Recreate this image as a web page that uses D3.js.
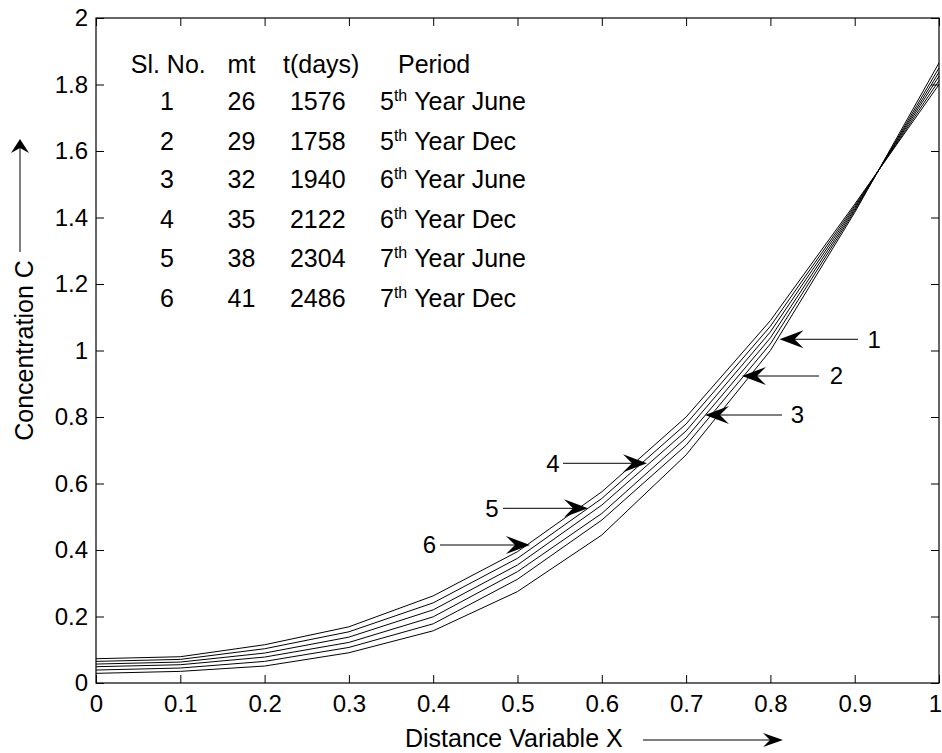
<!DOCTYPE html>
<html><head><meta charset="utf-8">
<script src="https://cdn.jsdelivr.net/npm/d3@7"></script>
<style>
html,body{margin:0;padding:0;background:#fff;}
svg{display:block;font-family:"Liberation Sans",Arial,Helvetica,sans-serif;}
</style></head>
<body>
<div id="chart"></div>
<script>
// ---- data ----
const xValues = [0, 0.1, 0.2, 0.3, 0.4, 0.5, 0.6, 0.7, 0.8, 0.9, 1.0];
const curve1 = [0.029, 0.035, 0.051, 0.091, 0.157, 0.275, 0.445, 0.686, 1.000, 1.415, 1.865];
const curve2 = [0.039, 0.045, 0.065, 0.107, 0.178, 0.312, 0.490, 0.715, 1.020, 1.420, 1.850];
const curve3 = [0.049, 0.055, 0.078, 0.122, 0.199, 0.335, 0.510, 0.737, 1.038, 1.425, 1.837];
const curve4 = [0.057, 0.063, 0.090, 0.138, 0.220, 0.355, 0.535, 0.758, 1.056, 1.430, 1.825];
const curve5 = [0.065, 0.071, 0.103, 0.154, 0.241, 0.375, 0.555, 0.779, 1.073, 1.435, 1.812];
const curve6 = [0.073, 0.079, 0.115, 0.169, 0.262, 0.395, 0.575, 0.800, 1.090, 1.440, 1.800];
const curves = [curve1, curve2, curve3, curve4, curve5, curve6];

const xTicks = [0, 0.1, 0.2, 0.3, 0.4, 0.5, 0.6, 0.7, 0.8, 0.9, 1];
const xTickLabels = ["0","0.1","0.2","0.3","0.4","0.5","0.6","0.7","0.8","0.9","1"];
const yTicks = [0, 0.2, 0.4, 0.6, 0.8, 1, 1.2, 1.4, 1.6, 1.8, 2];
const yTickLabels = ["0","0.2","0.4","0.6","0.8","1","1.2","1.4","1.6","1.8","2"];

const tableSlNo = ["1","2","3","4","5","6"];
const tableMt = ["26","29","32","35","38","41"];
const tableDays = ["1576","1758","1940","2122","2304","2486"];
const tableOrd = ["5","5","6","6","7","7"];
const tablePeriod = ["Year June","Year Dec","Year June","Year Dec","Year June","Year Dec"];
const tableHeaders = ["Sl. No.","mt","t(days)","Period"];

// curve label arrows (data coords): tip, tail, label
const arrowLabels = ["1","2","3","4","5","6"];
const arrowTipX = [0.8108, 0.7663, 0.7224, 0.6536, 0.5836, 0.5148];
const arrowTipY = [1.0337, 0.9233, 0.806, 0.6608, 0.5254, 0.415];
const arrowTailX = [0.904, 0.8577, 0.8138, 0.554, 0.4828, 0.4081];
const arrowLabelX = [0.923, 0.8784, 0.8321, 0.5421, 0.4698, 0.3956];

// ---- layout ----
const W = 942, H = 753;
const M = {left: 96, top: 18, right: 3, bottom: 70};
const x = d3.scaleLinear().domain([0,1]).range([M.left, W - M.right]);
const y = d3.scaleLinear().domain([0,2]).range([H - M.bottom, M.top]);
const FS = 24, FT = 25;

const svg = d3.select("#chart").append("svg").attr("width", W).attr("height", H);
svg.append("rect").attr("width", W).attr("height", H).attr("fill", "#fff");

// axes
const fmtX = d => xTickLabels[xTicks.indexOf(d)];
const fmtY = d => yTickLabels[yTicks.indexOf(d)];
const gx = svg.append("g").attr("transform", `translate(0,${y(0)})`)
  .call(d3.axisBottom(x).tickValues(xTicks).tickFormat(fmtX).tickSizeInner(-8).tickSizeOuter(0).tickPadding(12));
const gy = svg.append("g").attr("transform", `translate(${x(0)},0)`)
  .call(d3.axisLeft(y).tickValues(yTicks).tickFormat(fmtY).tickSizeInner(-8).tickSizeOuter(0).tickPadding(8));
const gt = svg.append("g").attr("transform", `translate(0,${y(2)})`)
  .call(d3.axisTop(x).tickValues(xTicks).tickFormat("").tickSizeInner(-8).tickSizeOuter(0));
const gr = svg.append("g").attr("transform", `translate(${x(1)},0)`)
  .call(d3.axisRight(y).tickValues(yTicks).tickFormat("").tickSizeInner(-8).tickSizeOuter(0));
[gx, gy, gt, gr].forEach(g => {
  g.select(".domain").remove();
  g.selectAll("line").attr("stroke", "#000").attr("stroke-width", 1);
  g.selectAll("text").attr("font-size", FS).attr("fill", "#000")
   .attr("font-family", '"Liberation Sans",Arial,Helvetica,sans-serif');
});
// keep the last x tick label inside the picture
gx.selectAll(".tick").filter(d => d === 1).select("text").attr("dx", -4);
svg.append("rect").attr("x", x(0)).attr("y", y(2)).attr("width", x(1) - x(0)).attr("height", y(0) - y(2))
  .attr("fill", "none").attr("stroke", "#000").attr("stroke-width", 1.2);

// curves
const line = d3.line().x((d, i) => x(xValues[i])).y(d => y(d));
svg.append("g").selectAll("path").data(curves).join("path")
  .attr("d", line).attr("fill", "none").attr("stroke", "#000").attr("stroke-width", 1);

function arrowHead(g, tx, ty, angleDeg, len, half, notch) {
  const p = `M0,0 L${-len},${-half} L${-notch},0 L${-len},${half} Z`;
  g.append("path").attr("d", p).attr("fill", "#000")
    .attr("transform", `translate(${tx},${ty}) rotate(${angleDeg})`);
}

// curve annotations
const ag = svg.append("g");
arrowLabels.forEach((lab, i) => {
  const tx = x(arrowTipX[i]), ty = y(arrowTipY[i]), tl = x(arrowTailX[i]);
  const pointsRight = tl < tx;
  ag.append("line").attr("x1", tl).attr("y1", ty).attr("x2", tx + (pointsRight ? -12 : 12)).attr("y2", ty)
    .attr("stroke", "#000").attr("stroke-width", 1);
  arrowHead(ag, tx, ty, pointsRight ? 0 : 180, 24, 9, 15);
  ag.append("text").attr("x", x(arrowLabelX[i])).attr("y", ty).attr("dy", "0.35em")
    .attr("text-anchor", "middle").attr("font-size", FS).text(lab);
});

// table
const tg = svg.append("g").attr("font-size", FT).attr("fill", "#000");
const headerY = y(1.834);
tg.append("text").attr("x", x(0.0412)).attr("y", headerY).text(tableHeaders[0]);
tg.append("text").attr("x", x(0.1726)).attr("y", headerY).attr("text-anchor", "middle").text(tableHeaders[1]);
tg.append("text").attr("x", x(0.2218)).attr("y", headerY).text(tableHeaders[2]);
tg.append("text").attr("x", x(0.3582)).attr("y", headerY).text(tableHeaders[3]);
const rowY = [1.723, 1.603, 1.488, 1.368, 1.252, 1.132];
tableSlNo.forEach((s, i) => {
  const yy = y(rowY[i]);
  tg.append("text").attr("x", x(0.0842)).attr("y", yy).attr("text-anchor", "middle").text(s);
  tg.append("text").attr("x", x(0.1726)).attr("y", yy).attr("text-anchor", "middle").text(tableMt[i]);
  tg.append("text").attr("x", x(0.2301)).attr("y", yy).text(tableDays[i]);
  const t = tg.append("text").attr("x", x(0.3369)).attr("y", yy);
  t.append("tspan").text(tableOrd[i]);
  t.append("tspan").attr("font-size", 16).attr("dy", -9).text("th");
  t.append("tspan").attr("dy", 9).text("\u00a0" + tablePeriod[i]);
});

// axis labels
svg.append("text").attr("x", 405).attr("y", 747).attr("font-size", FT).text("Distance Variable X");
svg.append("line").attr("x1", 643).attr("y1", 740).attr("x2", 770).attr("y2", 740).attr("stroke", "#000").attr("stroke-width", 1);
arrowHead(svg, 783, 740, 0, 20, 7, 13);

svg.append("text").attr("transform", `translate(33,${(y(0) + y(2)) / 2}) rotate(-90)`)
  .attr("text-anchor", "middle").attr("font-size", FT).text("Concentration C");
svg.append("line").attr("x1", 20).attr("y1", 252).attr("x2", 20).attr("y2", 148).attr("stroke", "#000").attr("stroke-width", 1);
arrowHead(svg, 20, 139, -90, 14, 9, 9);
</script>
</body></html>
